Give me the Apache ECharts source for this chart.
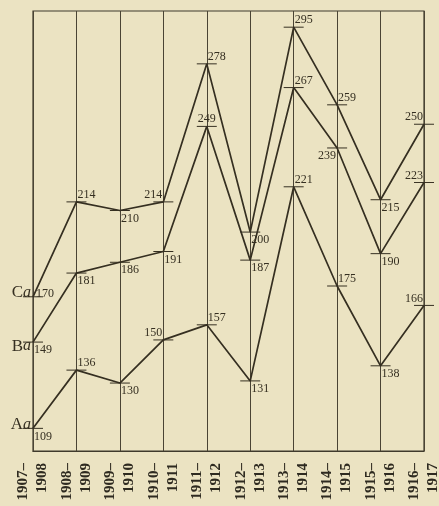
<!DOCTYPE html>
<html>
<head>
<meta charset="utf-8">
<script src="https://cdn.jsdelivr.net/npm/echarts@6/dist/echarts.min.js"></script>
<style>
html,body{margin:0;padding:0;background:#ebe3c2;}
#c{width:439px;height:506px;}
</style>
</head>
<body>
<div id="c"></div>
<script>
// ---- data ----
const categories = ['1907–1908','1908–1909','1909–1910','1910–1911','1911–1912','1912–1913','1913–1914','1914–1915','1915–1916','1916–1917'];
const seriesA = [109, 136, 130, 150, 157, 131, 221, 175, 138, 166];
const seriesB = [149, 181, 186, 191, 249, 187, 267, 239, 190, 223];
const seriesC = [170, 214, 210, 214, 278, 200, 295, 259, 215, 250];
const seriesNames = ['A', 'B', 'C'];

// label placement codes (style only)
const placeA = ['br','tr','br','tl','tr','br','tr','tr','br','tl'];
const placeB = ['br','br','br','br','t','br','tr','bl','br','tl'];
const placeC = ['r','tr','br','tl','tr','br','tr','tr','br','tl'];

const ink = '#352f21';
const serif = '"Liberation Serif", "DejaVu Serif", serif';

function labelFor(code){
  const m = {
    tr:{align:'left', verticalAlign:'bottom', offset:[1,-1]},
    br:{align:'left', verticalAlign:'top', offset:[1,2]},
    tl:{align:'right', verticalAlign:'bottom', offset:[-1,-1]},
    bl:{align:'right', verticalAlign:'top', offset:[-1,2]},
    t:{align:'center', verticalAlign:'bottom', offset:[0,-2]},
    r:{align:'left', verticalAlign:'middle', offset:[3,-3]}
  }[code];
  return Object.assign({show:true, position:'inside', fontFamily:serif, fontSize:12, color:ink}, m);
}

function makeSeries(name, values, places, nameDy){
  return {
    name: name,
    type: 'line',
    data: values.map((v,i)=>({value:v, label:labelFor(places[i])})),
    symbol: 'rect',
    symbolSize: [20, 1],
    itemStyle: {color: ink},
    lineStyle: {color: ink, width: 1.7},
    emphasis: {disabled: true},
    silent: true,
    z: 3,
    markPoint: {
      symbol: 'circle', symbolSize: 0, silent: true,
      data: [{coord: [categories[0], values[0]]}],
      label: {
        show: true, position: 'left', distance: 2, offset:[0, nameDy],
        formatter: '{b|' + name + '}{i|a}',
        rich: {
          b: {fontFamily: serif, fontSize: 17, color: ink},
          i: {fontFamily: serif, fontSize: 16, fontStyle: 'italic', color: ink}
        }
      }
    }
  };
}

const chart = echarts.init(document.getElementById('c'));
chart.setOption({
  backgroundColor: '#ebe3c2',
  animation: false,
  grid: {left: 33, right: 15, top: 11, bottom: 55, outerBoundsMode: 'none', containLabel: false, show: true, borderColor: '#3f3a2c', borderWidth: 1.2, backgroundColor: 'transparent'},
  xAxis: {
    type: 'category',
    data: categories,
    boundaryGap: false,
    axisLine: {show: true, lineStyle: {color: '#3f3a2c', width: 1.2}},
    axisTick: {show: false},
    splitLine: {show: true, lineStyle: {color: '#4a4434', width: 1}},
    axisLabel: {
      rotate: 90, margin: 12, interval: 0,
      fontFamily: serif, fontSize: 15, fontWeight: 'bold', lineHeight: 19, color: '#2e2a20',
      padding: [8, 0, 0, 0],
      formatter: v => v.replace('–', '–\n')
    }
  },
  yAxis: {
    type: 'value', min: 98.5, max: 302.5,
    show: false, splitLine: {show: false}
  },
  series: [
    makeSeries(seriesNames[0], seriesA, placeA, -4),
    makeSeries(seriesNames[1], seriesB, placeB, 4),
    makeSeries(seriesNames[2], seriesC, placeC, -4)
  ]
});
</script>
</body>
</html>
